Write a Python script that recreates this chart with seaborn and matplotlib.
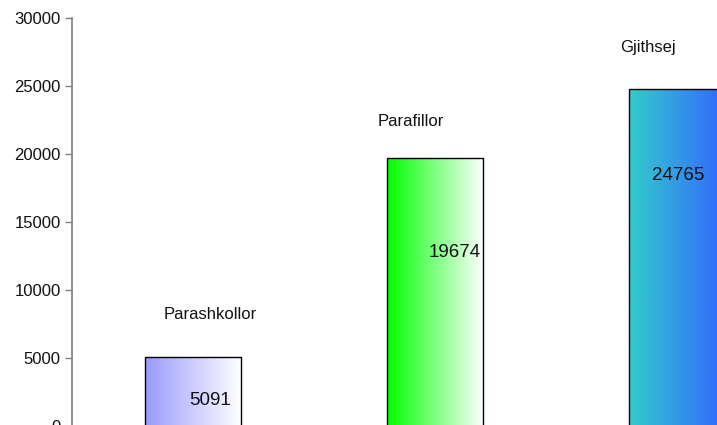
import numpy as np
import pandas as pd
import matplotlib
matplotlib.use("Agg")
import matplotlib.pyplot as plt
import seaborn as sns
from matplotlib.colors import LinearSegmentedColormap

categories = ["Parashkollor", "Parafillor", "Gjithsej"]
values = [5091, 19674, 24765]
grad_left = ["#9a9aff", "#00ff00", "#33cccc"]
grad_right = ["#ffffff", "#ffffff", "#3366ff"]

# label placement (pixels relative to bar top centre)
name_offset = [(17, 42), (-24, 37), (-29, 42)]
value_offset = [(17, -44), (20, -94), (1, -86)]

sns.set_style("white")
plt.rcParams["font.family"] = ["Liberation Sans", "DejaVu Sans"]

fig = plt.figure(figsize=(7.17, 4.25), dpi=100)
ax = fig.add_axes([72 / 717, -1 / 425, 726 / 717, 408 / 425])

df = pd.DataFrame({"cat": categories, "val": values})
sns.barplot(data=df, x="cat", y="val", ax=ax, width=0.4, color="white",
            edgecolor="black", linewidth=1.0, order=categories)

for i, patch in enumerate(ax.patches):
    x0, y0 = patch.get_x(), patch.get_y()
    w, h = patch.get_width(), patch.get_height()
    cmap = LinearSegmentedColormap.from_list(f"g{i}", [grad_left[i], grad_right[i]])
    grad = np.linspace(0, 1, 256).reshape(1, -1)
    im = ax.imshow(grad, cmap=cmap, aspect="auto",
                   extent=[x0, x0 + w, y0, y0 + h], zorder=patch.get_zorder() - 0.1)
    im.set_clip_path(patch)
    patch.set_facecolor("none")
    patch.set_zorder(3)

    ax.annotate(categories[i], xy=(i, values[i]), xytext=name_offset[i],
                textcoords="offset pixels", ha="center", va="center",
                fontsize=12, color="#111111")
    ax.annotate(str(values[i]), xy=(i, values[i]), xytext=value_offset[i],
                textcoords="offset pixels", ha="center", va="center",
                fontsize=13.5, color="#111111")

ax.set_xlim(-0.5, 2.5)
ax.set_ylim(0, 30000)
ax.set_yticks(range(0, 30001, 5000))
ax.set_xticks([])
ax.set_xlabel("")
ax.set_ylabel("")
ax.tick_params(axis="y", left=True, length=5, width=1, color="#808080",
               labelsize=12, labelcolor="#111111", pad=3)
for side in ["top", "right", "bottom"]:
    ax.spines[side].set_visible(False)
ax.spines["left"].set_color("#808080")
ax.spines["left"].set_linewidth(1.2)

fig.savefig("out.png", dpi=100)
